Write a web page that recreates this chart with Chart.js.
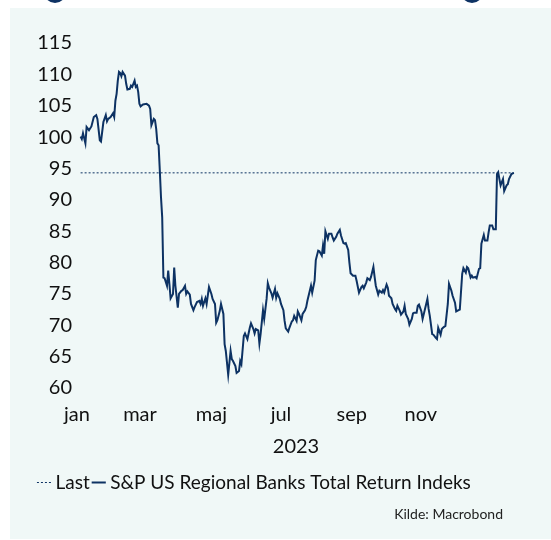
<!DOCTYPE html>
<html>
<head>
<meta charset="utf-8">
<script src="https://cdn.jsdelivr.net/npm/chart.js@4.4.0/dist/chart.umd.min.js"></script>
<style>
  html, body { margin: 0; padding: 0; background: #fff; }
  #wrap { position: relative; width: 551px; height: 540px; overflow: hidden; }
  .panel { position: absolute; left: 10px; top: 8px; width: 541px; height: 531px; background: #f0f8f7; }
  .dot { position: absolute; top: -19px; width: 22px; height: 22px; border-radius: 50%; background: #0d3263; }
  #src { position: absolute; right: 48px; top: 505px; font: 14px Lato, sans-serif; color: #222; }
  canvas { position: absolute; left: 0; top: 0; }
</style>
</head>
<body>
<div id="wrap">
  <div class="panel"></div>
  <div class="dot" style="left:44px"></div>
  <div class="dot" style="left:461px"></div>
  <canvas id="chart" width="551" height="540"></canvas>
  <div id="src">Kilde: Macrobond</div>
</div>
<script>
// day of year (2023) and index level
var dayNo = [2,3,4,6,7,9,11,13,15,16,18,19,21,23,24,25,27,29,30,31,32,33,34,35,36,37,39,40,41,43,44,45,47,48,49,50,
  51,52,54,57,59,60,61,63,64,65,66,67,68,69,70,71,72,74,75,76,77,79,80,81,83,84,86,87,89,90,91,93,94,96,97,99,
  101,102,103,104,106,107,109,111,112,114,115,116,118,119,121,122,123,125,127,128,129,131,132,134,135,136,138,139,141,143,144,146,147,148,150,
  151,152,154,155,157,158,159,161,162,164,165,166,168,169,171,172,173,175,176,178,179,180,182,183,184,186,187,189,190,191,193,194,195,197,198,200,
  201,203,204,205,206,208,209,211,212,213,215,216,218,219,221,222,223,225,226,227,229,231,232,234,236,237,238,240,241,243,244,246,247,248,250,
  251,253,254,255,257,258,259,261,262,264,265,266,268,269,271,272,273,275,276,278,279,280,282,283,284,286,287,289,291,292,293,295,296,298,299,300,
  302,303,304,306,308,309,311,312,314,315,317,318,320,321,323,324,325,327,328,329,331,332,334,335,336,338,339,341,342,343,345,346,348,349,350,
  351,352,354,355,357,358,359,361,363];
var indexValues = [100.1,99.7,100.6,99.0,101.6,101.1,101.7,103.2,103.5,102.9,99.5,99.3,102.4,103.5,102.5,102.9,103.2,103.8,103.2,105.8,106.9,109.0,110.4,110.2,109.7,110.4,109.8,108.5,107.6,107.7,108.2,108.0,109.0,108.0,108.2,107.2,
  105.3,104.9,105.2,105.3,105.0,104.5,101.9,102.9,102.7,101.3,99.0,98.7,94.7,90.4,87.2,77.6,77.5,76.3,78.7,76.6,74.3,75.0,79.2,76.3,72.8,75.0,75.5,75.6,76.3,75.0,75.4,74.9,73.4,72.4,72.9,73.7,
  73.9,73.4,74.2,73.1,74.3,73.4,76.1,75.0,74.2,73.4,70.4,70.8,72.3,73.4,71.8,67.0,65.9,62.1,65.9,64.6,64.3,63.5,62.4,62.7,64.3,63.8,68.3,68.7,67.8,69.6,70.3,69.4,68.7,69.4,69.2,
  67.1,68.6,72.4,71.0,74.2,76.7,76.0,75.1,74.4,75.8,74.4,75.1,74.2,73.4,72.4,70.7,69.5,69.0,69.6,70.6,70.8,71.5,70.7,72.2,71.8,70.8,71.8,72.4,72.9,73.9,75.5,76.3,75.2,77.1,80.4,81.9,
  81.8,81.1,82.7,81.4,85.0,83.8,84.6,84.6,84.0,83.5,84.1,84.6,85.2,84.3,83.1,83.0,83.1,82.0,80.0,78.3,77.9,77.9,77.1,75.2,76.1,76.3,75.9,76.8,77.5,77.2,77.7,79.3,77.7,76.3,74.9,
  75.5,75.2,75.6,75.2,76.5,76.0,74.7,74.3,73.4,72.6,72.3,73.1,72.3,71.7,72.2,73.1,71.8,71.0,70.1,71.0,71.9,72.0,72.0,73.1,73.3,72.2,71.0,72.6,74.2,72.6,71.5,68.6,68.5,68.0,67.8,69.6,
  68.5,69.4,69.6,69.9,73.4,76.6,75.5,74.7,73.6,72.2,72.4,72.5,78.2,79.1,78.4,79.3,79.1,77.6,77.9,77.6,77.7,77.5,79.0,79.1,83.0,84.4,83.5,83.5,84.8,85.9,85.9,85.3,85.3,94.1,94.4,
  93.3,92.3,93.3,91.4,92.3,92.5,93.3,94.1,94.3];

var monthLabels = ["jan", "mar", "maj", "jul", "sep", "nov"];
var monthTickAt = [-1, 51.5, 111, 169, 228, 285.5];
var yTicks = [60, 65, 70, 75, 80, 85, 90, 95, 100, 105, 110, 115];

var navy = "#0d3263";
var fontFam = "Lato, 'Open Sans', sans-serif";

var series = dayNo.map(function(d, i){ return {x: d, y: indexValues[i]}; });
var lastVal = indexValues[indexValues.length - 1];
var lastLine = [
  {x: dayNo[0], y: lastVal},
  {x: dayNo[dayNo.length - 1], y: lastVal}
];

var chart = new Chart(document.getElementById("chart"), {
  type: "line",
  data: {
    datasets: [{
      label: "Last",
      data: lastLine,
      borderColor: navy,
      borderWidth: 1,
      borderDash: [2, 2],
      pointRadius: 0
    }, {
      label: "S&P US Regional Banks Total Return Indeks",
      data: series,
      borderColor: navy,
      borderWidth: 2,
      pointRadius: 0,
      tension: 0
    }]
  },
  options: {
    responsive: false,
    animation: false,
    layout: {
      padding: {top: 43, left: 35, right: 36, bottom: 38}
    },
    scales: {
      x: {
        type: "linear",
        min: -1,
        max: 364,
        grid: {display: false, drawTicks: false},
        border: {display: false},
        afterBuildTicks: function(axis){
          axis.ticks = monthTickAt.map(function(v){ return {value: v}; });
        },
        ticks: {
          autoSkip: false,
          maxRotation: 0,
          padding: 15,
          color: "#111",
          font: {family: fontFam, size: 20},
          callback: function(v, i){ return monthLabels[i]; }
        },
        title: {
          display: true,
          text: "2023",
          color: "#111",
          font: {family: fontFam, size: 20, lineHeight: 1},
          padding: {top: -5, bottom: 9}
        }
      },
      y: {
        min: 60,
        max: 115,
        grid: {display: false, drawTicks: false},
        border: {display: false},
        afterBuildTicks: function(axis){
          axis.ticks = yTicks.map(function(v){ return {value: v}; });
        },
        afterFit: function(scale){ scale.width = 42; },
        ticks: {
          padding: 5,
          color: "#111",
          font: {family: fontFam, size: 20}
        }
      }
    },
    plugins: {
      tooltip: {enabled: false},
      legend: {
        position: "bottom",
        align: "start",
        labels: {
          usePointStyle: true,
          boxWidth: 4,
          boxHeight: 10,
          padding: 7,
          color: "#111",
          font: {family: fontFam, size: 19},
          generateLabels: function(ch){
            return ch.data.datasets.map(function(ds, i){
              return {
                text: ds.label,
                fillStyle: ds.borderColor,
                strokeStyle: ds.borderColor,
                lineWidth: ds.borderWidth,
                lineDash: ds.borderDash || [],
                pointStyle: "line",
                fontColor: "#111",
                hidden: false,
                datasetIndex: i
              };
            });
          }
        }
      }
    }
  }
});
</script>
</body>
</html>
